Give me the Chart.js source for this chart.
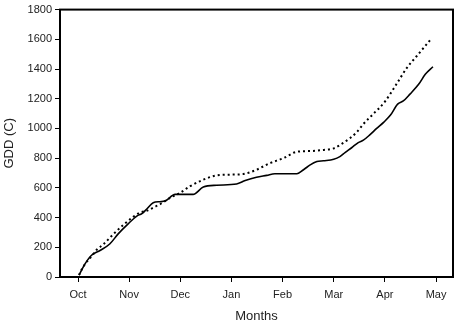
<!DOCTYPE html>
<html>
<head>
<meta charset="utf-8">
<script src="https://cdn.jsdelivr.net/npm/chart.js@4.4.1/dist/chart.umd.min.js"></script>
<style>
  html, body { margin: 0; padding: 0; background: #fff; }
  #wrap { width: 454px; height: 320px; position: relative; }
</style>
</head>
<body>
<div id="wrap"><canvas id="gddChart"></canvas></div>
<script>
// ---- data ----
const monthLabels = ["Oct", "Nov", "Dec", "Jan", "Feb", "Mar", "Apr", "May"];

// solid line (months since Oct 1, GDD)
const solidMonths = [0.02, 0.14, 0.27, 0.43, 0.62, 0.79, 0.98, 1.15, 1.25, 1.34, 1.47, 1.60, 1.70, 1.90,
    2.25, 2.45, 2.71, 3.10, 3.27, 3.49, 3.69, 3.85, 4.28, 4.41, 4.54, 4.67, 4.80, 5.00, 5.12, 5.22,
    5.35, 5.48, 5.58, 5.71, 5.84, 5.98, 6.11, 6.25, 6.36, 6.49, 6.66, 6.79, 6.94];
const solidGdd = [13, 90, 148, 178, 222, 292, 358, 410, 427, 456, 500, 507, 511, 556,
    556, 606, 618, 626, 649, 671, 684, 695, 695, 722, 755, 777, 782, 792, 810, 837,
    870, 905, 921, 958, 1000, 1043, 1090, 1164, 1185, 1231, 1297, 1364, 1415];

// dotted line
const dottedMonths = [0.02, 0.10, 0.29, 0.37, 0.49, 0.69, 0.89, 1.08, 1.21, 1.34, 1.47, 1.60, 1.80, 2.00,
    2.19, 2.45, 2.71, 2.97, 3.23, 3.49, 3.75, 4.01, 4.28, 4.54, 4.80, 5.00, 5.12, 5.32, 5.45,
    5.58, 5.75, 6.00, 6.23, 6.43, 6.62, 6.90];
const dottedGdd = [13, 68, 150, 185, 218, 288, 352, 405, 434, 445, 467, 489, 533, 567,
    611, 655, 684, 689, 693, 722, 766, 799, 843, 848, 855, 866, 888, 935, 975,
    1030, 1090, 1180, 1300, 1408, 1486, 1601];

function toPoints(xs, ys) {
    return xs.map((x, i) => ({ x: x, y: ys[i] }));
}

// box round the plot area (top + right sides)
const frame = {
    id: "frame",
    afterDraw(chart) {
        const { ctx, chartArea: a } = chart;
        ctx.save();
        ctx.strokeStyle = "#000";
        ctx.lineWidth = 2;
        ctx.strokeRect(a.left, a.top, a.right - a.left, a.bottom - a.top);
        ctx.restore();
    }
};

Chart.defaults.font.family = "'Liberation Sans', Arial, sans-serif";
Chart.defaults.color = "#222";

new Chart(document.getElementById("gddChart"), {
    type: "line",
    data: {
        datasets: [
            {
                data: toPoints(dottedMonths, dottedGdd),
                borderColor: "#000",
                borderWidth: 2,
                borderDash: [2, 3],
                pointRadius: 0,
                cubicInterpolationMode: "monotone"
            },
            {
                data: toPoints(solidMonths, solidGdd),
                borderColor: "#000",
                borderWidth: 1.6,
                pointRadius: 0,
                cubicInterpolationMode: "monotone"
            }
        ]
    },
    options: {
        responsive: true,
        maintainAspectRatio: false,
        animation: false,
        layout: { padding: { top: 5, right: 1, left: 0, bottom: 0 } },
        plugins: {
            legend: { display: false },
            tooltip: { enabled: false }
        },
        scales: {
            x: {
                type: "linear",
                min: -0.352,
                max: 7.332,
                afterBuildTicks: s => { s.ticks = monthLabels.map((m, i) => ({ value: i })); },
                afterFit: s => { s.height = 43; },
                ticks: {
                    callback: v => monthLabels[v],
                    font: { size: 11 },
                    padding: 6,
                    maxRotation: 0
                },
                grid: {
                    drawOnChartArea: false,
                    tickLength: 5,
                    tickColor: "#000",
                    tickWidth: 1
                },
                border: { display: true, color: "#000", width: 2 },
                title: {
                    display: true,
                    text: "Months",
                    font: { size: 13 },
                    padding: { top: 0, bottom: -4 }
                }
            },
            y: {
                min: 0,
                max: 1800,
                afterFit: s => { s.width = 60; },
                ticks: { stepSize: 200, font: { size: 11 }, padding: 3, callback: v => String(v) },
                grid: {
                    drawOnChartArea: false,
                    tickLength: 5,
                    tickColor: "#000",
                    tickWidth: 1
                },
                border: { display: true, color: "#000", width: 2 },
                title: {
                    display: true,
                    text: "GDD (C)",
                    font: { size: 13 },
                    padding: { top: 2, bottom: 0 }
                }
            }
        }
    },
    plugins: [frame]
});
</script>
</body>
</html>
